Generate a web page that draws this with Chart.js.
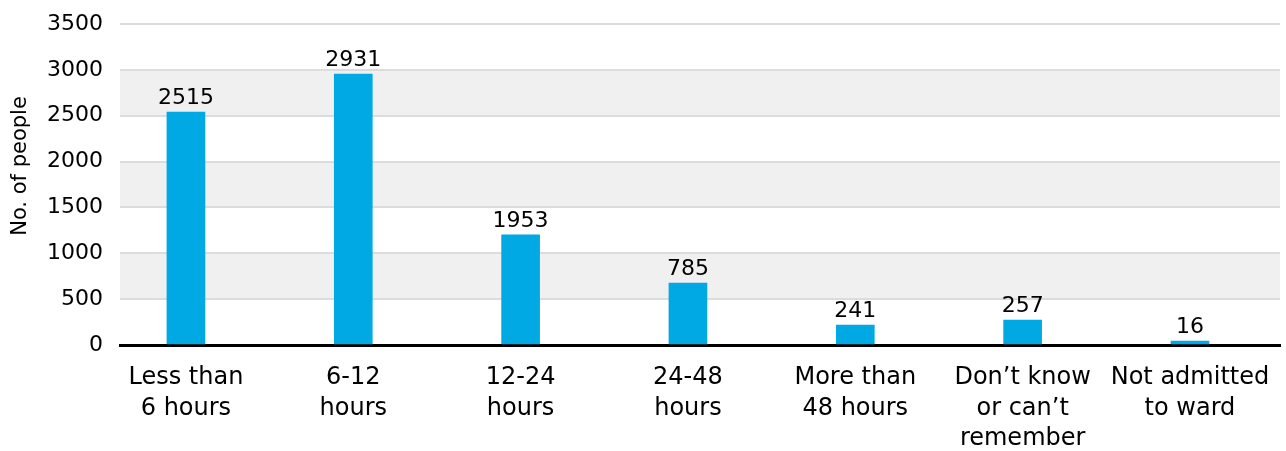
<!DOCTYPE html>
<html>
<head>
<meta charset="utf-8">
<script src="https://cdn.jsdelivr.net/npm/chart.js@4/dist/chart.umd.min.js"></script>
<style>
  html, body { margin: 0; padding: 0; background: #fff; }
  #wrap { width: 1286px; height: 451px; position: relative; }
</style>
</head>
<body>
<div id="wrap"><canvas id="chart"></canvas></div>
<script>
const categories = [
  ['Less than', '6 hours'],
  ['6-12', 'hours'],
  ['12-24', 'hours'],
  ['24-48', 'hours'],
  ['More than', '48 hours'],
  ['Don\u2019t know', 'or can\u2019t', 'remember'],
  ['Not admitted', 'to ward'],
];
// bar heights as drawn in the picture
const barValues = [2540, 2955, 1200, 676, 218, 273, 44];
// numbers printed above the bars
const valueLabels = ['2515', '2931', '1953', '785', '241', '257', '16'];
const yTicks = [0, 500, 1000, 1500, 2000, 2500, 3000, 3500];
const yTitle = 'No. of people';

const FONT = 'DejaVu Sans';
const BAR_COLOR = '#00a9e3';
const TEXT = '#000';

const bandPlugin = {
  id: 'bands',
  beforeDraw(chart) {
    const { ctx, chartArea, scales } = chart;
    const y = scales.y;
    ctx.save();
    ctx.fillStyle = '#f0f0f0';
    for (let i = 1; i < yTicks.length - 1; i += 2) {
      const top = y.getPixelForValue(yTicks[i + 1]);
      const bottom = y.getPixelForValue(yTicks[i]);
      ctx.fillRect(chartArea.left, top, chartArea.right - chartArea.left, bottom - top);
    }
    ctx.restore();
  },
};

const valuePlugin = {
  id: 'values',
  afterDatasetsDraw(chart) {
    const { ctx } = chart;
    const meta = chart.getDatasetMeta(0);
    ctx.save();
    ctx.font = `22px "${FONT}"`;
    ctx.fillStyle = TEXT;
    ctx.textAlign = 'center';
    ctx.textBaseline = 'alphabetic';
    meta.data.forEach((bar, i) => {
      ctx.fillText(valueLabels[i], bar.x, bar.y - 8);
    });
    ctx.restore();
  },
};

const titlePlugin = {
  id: 'ytitle',
  afterDraw(chart) {
    const { ctx } = chart;
    ctx.save();
    ctx.translate(21, 166);
    ctx.rotate(-Math.PI / 2);
    ctx.font = `21px "${FONT}"`;
    ctx.fillStyle = TEXT;
    ctx.textAlign = 'center';
    ctx.textBaseline = 'middle';
    ctx.fillText(yTitle, 0, 0);
    ctx.restore();
  },
};

new Chart(document.getElementById('chart'), {
  type: 'bar',
  data: {
    datasets: [
      {
        data: barValues.map((v, i) => ({ x: i, y: v })),
        backgroundColor: BAR_COLOR,
        barThickness: 38,
        borderWidth: 0,
      },
    ],
  },
  options: {
    responsive: true,
    maintainAspectRatio: false,
    animation: false,
    layout: { padding: { top: 24, right: 6, left: 0, bottom: 0 } },
    plugins: {
      legend: { display: false },
      tooltip: { enabled: false },
    },
    scales: {
      x: {
        type: 'linear',
        offset: false,
        min: -0.394,
        max: 6.538,
        grid: { display: false, offset: false },
        border: { display: true, color: '#000', width: 3 },
        afterBuildTicks: (axis) => {
          axis.ticks = categories.map((c, i) => ({ value: i }));
        },
        afterFit: (axis) => { axis.height = 106; },
        ticks: {
          autoSkip: false,
          maxRotation: 0,
          padding: 10,
          color: TEXT,
          font: { family: FONT, size: 24, lineHeight: 1.27 },
          callback: (value) => categories[value],
        },
      },
      y: {
        min: 0,
        max: 3500,
        afterBuildTicks: (axis) => {
          axis.ticks = yTicks.map((v) => ({ value: v }));
        },
        afterFit: (axis) => {
          axis.width = 120;
          axis.paddingTop = 0;
          axis.paddingBottom = 0;
        },
        grid: { color: '#dcdcdc', lineWidth: 2, drawTicks: false },
        border: { display: false },
        ticks: {
          padding: 17,
          color: TEXT,
          font: { family: FONT, size: 22 },
          callback: (value) => String(value),
        },
      },
    },
  },
  plugins: [bandPlugin, valuePlugin, titlePlugin],
});
</script>
</body>
</html>
